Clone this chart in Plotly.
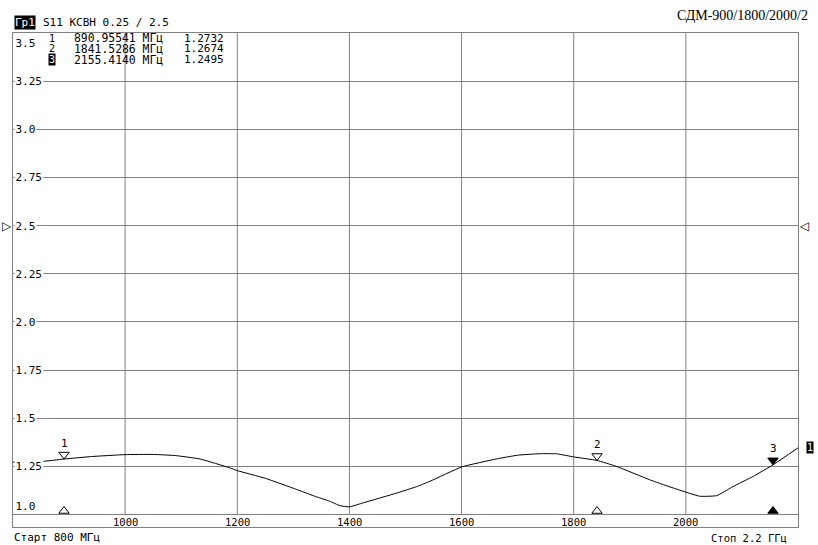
import numpy as np
import plotly.graph_objects as go

# ---------------- data ----------------
freq_mhz = [800, 850, 891, 940, 1000, 1050, 1090, 1134, 1187, 1200, 1250, 1306, 1340,
            1365, 1383, 1400, 1425, 1485, 1520, 1544, 1600, 1663, 1700, 1740, 1770,
            1800, 1841, 1876, 1935, 1960, 2000, 2025, 2055, 2084, 2120, 2156, 2200]
vswr = [1.272, 1.275, 1.288, 1.301, 1.311, 1.312, 1.306, 1.288, 1.242, 1.228, 1.188,
        1.130, 1.093, 1.069, 1.046, 1.040, 1.061, 1.112, 1.145, 1.173, 1.247, 1.289,
        1.308, 1.316, 1.315, 1.299, 1.281, 1.250, 1.181, 1.155, 1.116, 1.095, 1.098,
        1.145, 1.198, 1.259, 1.346]

marker_ids = ["1", "2", "3"]
marker_freq = [890.95541, 1841.5286, 2155.4140]
marker_freq_txt = ["890.95541", "1841.5286", "2155.4140"]
marker_val_txt = ["1.2732", "1.2674", "1.2495"]
marker_filled = [False, False, True]

x_ticks = [1000, 1200, 1400, 1600, 1800, 2000]
y_ticks = [1.0, 1.25, 1.5, 1.75, 2.0, 2.25, 2.5, 2.75, 3.0, 3.25, 3.5]
y_tick_txt = ["1.0", "1.25", "1.5", "1.75", "2.0", "2.25", "2.5", "2.75", "3.0", "3.25", "3.5"]
ref_level = 2.5

title_txt = "СДМ-900/1800/2000/2"
chan_txt = "Гр1"
trace_txt = "S11 КСВН 0.25 / 2.5"
start_txt = "Старт 800 МГц"
stop_txt = "Стоп 2.2 ГГц"

# ---------------- layout constants ----------------
W, H = 818, 545
ML, MR, MT, MB = 12.5, 20, 32.5, 17.5
PX_PER_UNIT = 193.0
Y_LO = 1.0 - 12.5 / PX_PER_UNIT
GRID = "#808080"
MONO = "DejaVu Sans Mono"

fig = go.Figure()

# trace
fig.add_trace(go.Scatter(x=freq_mhz, y=vswr, mode="lines",
                         line=dict(color="black", width=1, shape="spline", smoothing=0.4),
                         hoverinfo="skip", showlegend=False))

# markers on the trace (triangle tip at the curve)
mk_curve = np.interp(marker_freq, freq_mhz, vswr)
msize = 9
off = (msize / 2) / PX_PER_UNIT
fig.add_trace(go.Scatter(
    x=marker_freq, y=mk_curve + off, mode="markers",
    marker=dict(symbol="triangle-down", size=msize,
                color=["black" if f else "white" for f in marker_filled],
                line=dict(color="black", width=1)),
    hoverinfo="skip", showlegend=False, cliponaxis=False))
# markers on the bottom scale
fig.add_trace(go.Scatter(
    x=marker_freq, y=[1.0 + 3.5 / PX_PER_UNIT] * len(marker_freq), mode="markers",
    marker=dict(symbol="triangle-up", size=msize,
                color=["black" if f else "white" for f in marker_filled],
                line=dict(color="black", width=1)),
    hoverinfo="skip", showlegend=False, cliponaxis=False))

# vertical grid lines (end at 1.0)
for xv in x_ticks:
    fig.add_shape(type="line", xref="x", yref="y", x0=xv, x1=xv, y0=1.0, y1=3.5,
                  line=dict(color=GRID, width=1), layer="below")

ann = []
# y labels (inside, left)
for v, t in zip(y_ticks, y_tick_txt):
    if v == 3.5:
        ya, ys = "top", -1.5
    elif v == 1.0:
        ya, ys = "bottom", 1
    else:
        ya, ys = "middle", 0
    ann.append(dict(xref="paper", yref="y", x=0, y=v, xanchor="left", yanchor=ya,
                    xshift=1, yshift=ys, text=t, showarrow=False,
                    font=dict(family=MONO, size=11, color="black"),
                    bgcolor="white", borderpad=0.5))
# x labels (strip under 1.0 line)
for xv in x_ticks:
    ann.append(dict(xref="x", yref="y", x=xv, y=1.0, xanchor="center", yanchor="top",
                    yshift=-0.5, text=str(xv), showarrow=False,
                    font=dict(family=MONO, size=10.5, color="black"), borderpad=0))
# marker numbers above the triangles
for mid, fx, cv in zip(marker_ids, marker_freq, mk_curve):
    ann.append(dict(xref="x", yref="y", x=fx, y=cv, xanchor="center", yanchor="middle",
                    yshift=16, text=mid, showarrow=False,
                    font=dict(family=MONO, size=11, color="black"), borderpad=0))
# marker table
row_y = [37.8, 48.4, 59.0]
for i, (mid, ft, vt, filled) in enumerate(zip(marker_ids, marker_freq_txt, marker_val_txt, marker_filled)):
    ys = MT - row_y[i]
    ann.append(dict(xref="paper", yref="paper", x=0, y=1, xanchor="center", yanchor="middle",
                    xshift=51 - ML, yshift=ys, text=mid, showarrow=False,
                    font=dict(family=MONO, size=10, color="white" if filled else "black"),
                    bgcolor="black" if filled else None, borderpad=0))
    ann.append(dict(xref="paper", yref="paper", x=0, y=1, xanchor="left", yanchor="middle",
                    xshift=72 - ML, yshift=ys, text=ft + " МГц", showarrow=False,
                    font=dict(family=MONO, size=11.4, color="black"), borderpad=0))
    ann.append(dict(xref="paper", yref="paper", x=0, y=1, xanchor="left", yanchor="middle",
                    xshift=182 - ML, yshift=ys, text=vt, showarrow=False,
                    font=dict(family=MONO, size=11, color="black"), borderpad=0))
# header
ann.append(dict(xref="paper", yref="paper", x=0, y=1, xanchor="left", yanchor="middle",
                xshift=13 - ML, yshift=MT - 21.5, text=chan_txt, showarrow=False,
                font=dict(family=MONO, size=11, color="white"), bgcolor="black", borderpad=0))
ann.append(dict(xref="paper", yref="paper", x=0, y=1, xanchor="left", yanchor="middle",
                xshift=41 - ML, yshift=MT - 21.5, text=trace_txt, showarrow=False,
                font=dict(family=MONO, size=11, color="black"), borderpad=0))
ann.append(dict(xref="paper", yref="paper", x=1, y=1, xanchor="right", yanchor="middle",
                xshift=809 - (W - MR), yshift=MT - 15, text=title_txt, showarrow=False,
                font=dict(family="Liberation Serif", size=14, color="black"), borderpad=0))
# footer
ann.append(dict(xref="paper", yref="paper", x=0, y=0, xanchor="left", yanchor="middle",
                xshift=12 - ML, yshift=-(538 - (H - MB)), text=start_txt, showarrow=False,
                font=dict(family=MONO, size=11, color="black"), borderpad=0))
ann.append(dict(xref="paper", yref="paper", x=1, y=0, xanchor="right", yanchor="middle",
                xshift=788 - (W - MR), yshift=-(538 - (H - MB)), text=stop_txt, showarrow=False,
                font=dict(family=MONO, size=10.5, color="black"), borderpad=0))
# reference level arrows
ann.append(dict(xref="paper", yref="y", x=0, y=ref_level, xanchor="right", yanchor="middle",
                xshift=0, text="▷", showarrow=False,
                font=dict(family="DejaVu Sans", size=12, color="black"), borderpad=0))
ann.append(dict(xref="paper", yref="y", x=1, y=ref_level, xanchor="left", yanchor="middle",
                xshift=0, text="◁", showarrow=False,
                font=dict(family="DejaVu Sans", size=12, color="black"), borderpad=0))
# trace number at the trace end
ann.append(dict(xref="paper", yref="y", x=1, y=vswr[-1], xanchor="center", yanchor="middle",
                xshift=11.5, text="1", showarrow=False,
                font=dict(family=MONO, size=10, color="white"), bgcolor="black", borderpad=0))

fig.update_layout(
    width=W, height=H, margin=dict(l=ML, r=MR, t=MT, b=MB, pad=0),
    paper_bgcolor="white", plot_bgcolor="white", showlegend=False,
    annotations=ann,
    xaxis=dict(range=[800, 2200], showgrid=False, zeroline=False, showticklabels=False,
               ticks="", showline=True, mirror=True, linecolor=GRID, linewidth=1),
    yaxis=dict(range=[Y_LO, 3.5], tickvals=y_ticks, showgrid=True, gridcolor=GRID, gridwidth=1,
               zeroline=False, showticklabels=False, ticks="", showline=True, mirror=True,
               linecolor=GRID, linewidth=1),
)

fig.write_html("out.html", config={"displayModeBar": False},
               post_script="document.body.style.margin='0';")
